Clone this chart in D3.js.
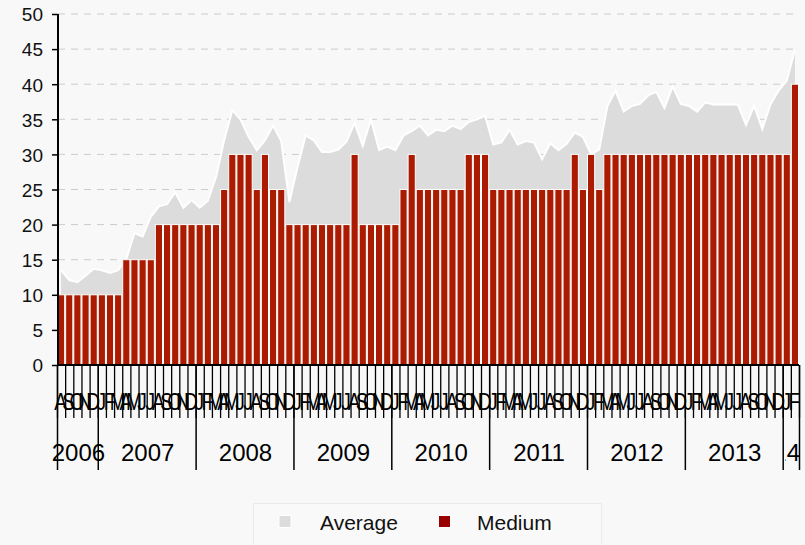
<!DOCTYPE html>
<html><head><meta charset="utf-8">
<script src="https://cdn.jsdelivr.net/npm/d3@7/dist/d3.min.js"></script>
<style>
html,body{margin:0;padding:0;background:#f8f8f8;}
svg{display:block;font-family:"Liberation Sans",Arial,sans-serif;}
</style></head>
<body><svg id="c" width="805" height="545"></svg>
<script>
const monthLabels = ["A","S","O","N","D"]
  .concat(...Array(7).fill(["J","F","M","A","M","J","J","A","S","O","N","D"]))
  .concat(["J","F"]);
const years = ["2006","2007","2008","2009","2010","2011","2012","2013","2014"];
const yearMonths = [5,12,12,12,12,12,12,12,2];
const yTicks = [0,5,10,15,20,25,30,35,40,45,50];
const medium = [10,10,10,10,10,10,10,10, 15,15,15,15, 20,20,20,20,20,20,20,20,
  25,30,30,30,25,30,25,25, 20,20,20,20,20,20,20,20, 30,20,20,20,20,20,
  25,30,25,25,25,25,25,25, 30,30,30, 25,25,25,25,25,25,25,25,25,25,
  30,25,30,25, 30,30,30,30,30,30,30,30,30,30,30,30,30,30,30,30,30,30,30,30,30,30,30, 40];
const average = [13.5,12.1,11.8,12.7,13.7,13.5,13.1,13.5,15.1,18.8,18.3,21.1,22.6,22.9,24.6,22.4,23.5,22.4,23.4,26.8,
  32.0,36.3,35.0,32.5,30.6,32.0,34.1,31.9,23.2,28.2,32.7,32.0,30.35,30.35,30.7,31.8,34.5,31.2,35.0,30.6,
  31.1,30.6,32.7,33.3,34.1,32.7,33.5,33.3,34.1,33.6,34.6,35.0,35.5,31.4,31.7,33.5,31.4,31.9,31.7,29.3,
  31.6,30.6,31.5,33.1,32.5,30.0,30.7,36.9,39.1,36.1,36.9,37.2,38.4,38.9,36.6,39.7,37.2,36.9,36.1,37.4,
  37.1,37.1,37.1,37.1,34.2,36.9,33.6,37.1,39.1,40.5,44.9];

(function(){
const svg = d3.select("#c");
const n = medium.length;
const idx = d3.range(n);
const pl = 57, pr = 799, pt = 14, pb = 365;
const x = d3.scaleBand().domain(idx).range([pl, pr]).paddingInner(0.12).paddingOuter(0.06);
const xi = d3.scaleLinear().domain([0, n]).range([pl, pr]);
const y = d3.scaleLinear().domain([0, 50]).range([pb, pt]);
const cx = i => xi(i + 0.5);

// gridlines
svg.append("g").selectAll("line").data(yTicks.filter(v => v > 0)).join("line")
  .attr("x1", 58).attr("x2", pr).attr("y1", d => y(d)).attr("y2", d => y(d))
  .attr("stroke", "#cccccc").attr("stroke-width", 1).attr("stroke-dasharray", "7,6");

// area
const area = d3.area().x((d, i) => cx(i)).y0(y(0)).y1(d => y(d));
const line = d3.line().x((d, i) => cx(i)).y(d => y(d));
svg.append("path").datum(average).attr("d", area).attr("fill", "#dcdcdc");
svg.append("path").datum(average).attr("d", line).attr("fill", "none")
  .attr("stroke", "#ffffff").attr("stroke-width", 2);

// bars
svg.append("g").selectAll("rect").data(medium).join("rect")
  .attr("x", (d, i) => x(i)).attr("width", x.bandwidth())
  .attr("y", d => y(d)).attr("height", d => y(0) - y(d))
  .attr("fill", "#aa1b02").attr("stroke", "#ffffff").attr("stroke-width", 1);

// y axis
const ya = svg.append("g").attr("transform", "translate(58,0)")
  .call(d3.axisLeft(y).tickValues(yTicks).tickSize(6).tickPadding(9));
ya.select(".domain").attr("stroke", "#000").attr("stroke-width", 2).attr("d", `M0,${pt}V${pb}`);
ya.selectAll(".tick line").attr("stroke", "#000").attr("stroke-width", 1.5);
ya.selectAll(".tick text").attr("font-size", 19).attr("fill", "#111")
  .attr("font-family", "'Liberation Sans',Arial,sans-serif").attr("dy", "0.36em");

// month ticks
const ma = svg.append("g").attr("transform", `translate(0,${pb})`)
  .call(d3.axisBottom(xi).tickValues(d3.range(n + 1)).tickSize(53).tickFormat(""));
ma.select(".domain").remove();
ma.selectAll(".tick line").attr("stroke", "#000").attr("stroke-width", 1.3);

// month labels
svg.append("g").selectAll("text").data(monthLabels).join("text")
  .attr("transform", (d, i) => `translate(${cx(i) - 0.5},410) scale(0.8,1)`)
  .attr("text-anchor", "middle").attr("font-size", 24).attr("fill", "#000").text(d => d);

// year dividers
const starts = [0];
yearMonths.forEach((m, i) => starts.push(starts[i] + m));
const yd = svg.append("g").attr("transform", `translate(0,${pb})`)
  .call(d3.axisBottom(xi).tickValues(starts).tickSize(105).tickFormat(""));
yd.select(".domain").remove();
yd.selectAll(".tick line").attr("stroke", "#000").attr("stroke-width", 1.5);

// x axis line
svg.append("line").attr("x1", 57).attr("x2", pr).attr("y1", pb).attr("y2", pb)
  .attr("stroke", "#000").attr("stroke-width", 2);

// year labels
const defs = svg.append("defs");
years.forEach((yr, i) => {
  const a = xi(starts[i]), b = xi(starts[i + 1]);
  const last = i === years.length - 1;
  if (last) {
    defs.append("clipPath").attr("id", "clipLast").append("rect")
      .attr("x", a + 2.5).attr("y", 420).attr("width", 30).attr("height", 60);
  }
  const t = svg.append("text").attr("x", last ? b + 1 : (a + b) / 2 + 1).attr("y", 461)
    .attr("text-anchor", last ? "end" : "middle").attr("font-size", 24).attr("fill", "#000").text(yr);
  if (last) t.attr("clip-path", "url(#clipLast)");
});

// legend
const lg = svg.append("g");
lg.append("rect").attr("x", 253.5).attr("y", 503.5).attr("width", 348).attr("height", 60)
  .attr("fill", "#f9f9f9").attr("stroke", "#ebebeb");
const items = [{name: "Average", color: "#dcdcdc", sx: 279, tx: 320},
               {name: "Medium", color: "#990000", sx: 438.5, tx: 477}];
items.forEach(it => {
  lg.append("rect").attr("x", it.sx).attr("y", 515.5).attr("width", 12).attr("height", 12)
    .attr("fill", it.color).attr("stroke", "#fff").attr("stroke-width", 1);
  lg.append("text").attr("x", it.tx).attr("y", 530).attr("font-size", 21).attr("fill", "#111").text(it.name);
});
})();
</script></body></html>
